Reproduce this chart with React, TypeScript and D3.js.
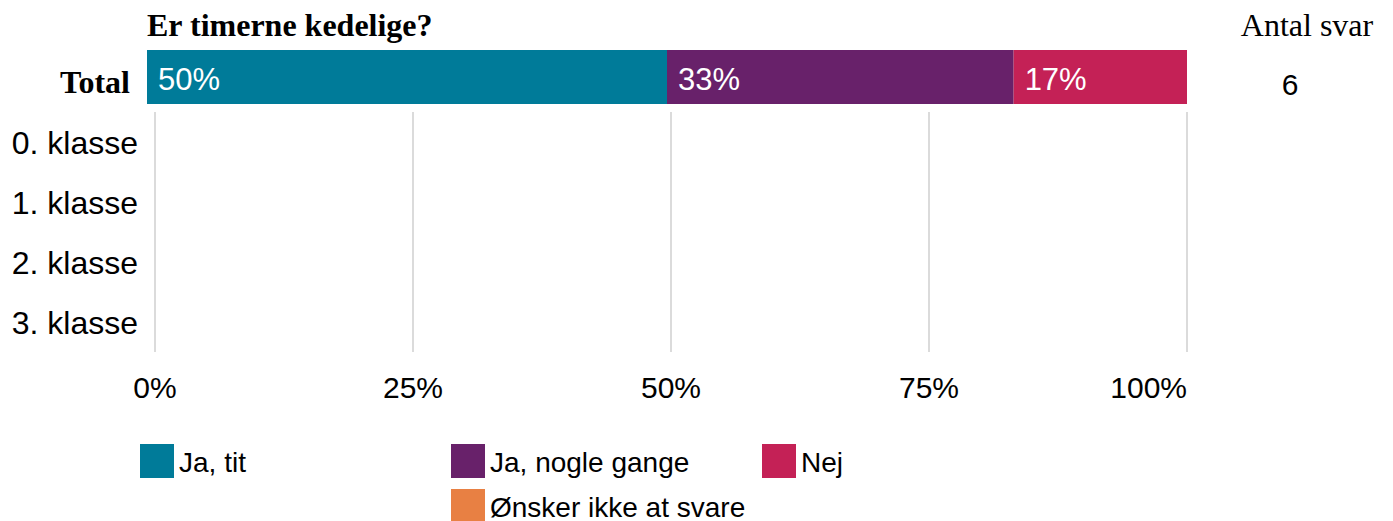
import * as d3 from "d3";
import { useEffect, useRef } from "react";

const title = "Er timerne kedelige?";
const answers = ["Ja, tit", "Ja, nogle gange", "Nej", "Ønsker ikke at svare"];
const colors = ["#007b99", "#68216a", "#c42156", "#e88043"];
const totalValues = [0.5, 0.3333, 0.1667, 0];
const totalCount = 6;
const classes = ["0. klasse", "1. klasse", "2. klasse", "3. klasse"];
const ticks = [0, 0.25, 0.5, 0.75, 1];
// legend layout: column / row of each answer
const legendCols = [0, 1, 2, 1];
const legendRows = [0, 0, 0, 1];

const W = 1393;
const H = 521;
const sans = "'Liberation Sans', Arial, sans-serif";
const serif = "'Liberation Serif', 'Times New Roman', serif";

const App = () => {
  const svgRef = useRef<SVGSVGElement>(null);

  useEffect(() => {
    const svg = d3.select(svgRef.current);
    svg.selectAll("*").remove();

    const xBar = d3.scaleLinear().domain([0, 1]).range([147, 1187]);
    const xGrid = d3.scaleLinear().domain([0, 1]).range([155, 1187]);
    const y = d3.scaleBand().domain(classes).range([112, 352]);

    // title + header
    svg
      .append("text")
      .attr("x", 147)
      .attr("y", 36)
      .attr("font-family", serif)
      .attr("font-weight", "bold")
      .attr("font-size", 32)
      .attr("fill", "#000")
      .text(title);

    svg
      .append("text")
      .attr("x", 1307)
      .attr("y", 36)
      .attr("text-anchor", "middle")
      .attr("font-family", serif)
      .attr("font-size", 32)
      .attr("fill", "#000")
      .text("Antal svar");

    // gridlines
    svg
      .append("g")
      .selectAll("line")
      .data(ticks)
      .join("line")
      .attr("x1", (d) => xGrid(d))
      .attr("x2", (d) => xGrid(d))
      .attr("y1", y.range()[0])
      .attr("y2", y.range()[1])
      .attr("stroke", "#c8c8c8")
      .attr("stroke-width", 1.3);

    // tick labels
    svg
      .append("g")
      .selectAll("text")
      .data(ticks)
      .join("text")
      .attr("x", (d) => xGrid(d))
      .attr("y", 398)
      .attr("text-anchor", (d, i) => (i === ticks.length - 1 ? "end" : "middle"))
      .attr("font-family", sans)
      .attr("font-size", 30)
      .attr("fill", "#000")
      .text((d) => d3.format(".0%")(d));

    // category labels
    svg
      .append("g")
      .selectAll("text")
      .data(classes)
      .join("text")
      .attr("x", 138)
      .attr("y", (d) => (y(d) as number) + y.bandwidth() / 2 + 12)
      .attr("text-anchor", "end")
      .attr("font-family", sans)
      .attr("font-size", 32)
      .attr("fill", "#000")
      .text((d) => d);

    // Total row
    const barTop = 50;
    const barH = 54;
    const stacked = totalValues.map((v, i) => ({
      v,
      i,
      start: d3.sum(totalValues.slice(0, i)),
    }));

    svg
      .append("text")
      .attr("x", 130)
      .attr("y", 93)
      .attr("text-anchor", "end")
      .attr("font-family", serif)
      .attr("font-weight", "bold")
      .attr("font-size", 32)
      .attr("fill", "#000")
      .text("Total");

    const segs = svg
      .append("g")
      .selectAll("g")
      .data(stacked.filter((d) => d.v > 0))
      .join("g");

    segs
      .append("rect")
      .attr("x", (d) => xBar(d.start))
      .attr("y", barTop)
      .attr("width", (d) => xBar(d.start + d.v) - xBar(d.start))
      .attr("height", barH)
      .attr("fill", (d) => colors[d.i]);

    segs
      .append("text")
      .attr("x", (d) => xBar(d.start) + 11)
      .attr("y", barTop + barH / 2 + 13)
      .attr("font-family", sans)
      .attr("font-size", 31)
      .attr("fill", "#fff")
      .text((d) => d3.format(".0%")(d.v));

    svg
      .append("text")
      .attr("x", 1290)
      .attr("y", 95)
      .attr("text-anchor", "middle")
      .attr("font-family", sans)
      .attr("font-size", 30)
      .attr("fill", "#000")
      .text(totalCount);

    // legend
    const legend = svg
      .append("g")
      .selectAll("g")
      .data(answers)
      .join("g")
      .attr(
        "transform",
        (d, i) => `translate(${140 + legendCols[i] * 311},${444 + legendRows[i] * 45})`
      );

    legend
      .append("rect")
      .attr("width", 34)
      .attr("height", 34)
      .attr("fill", (d, i) => colors[i]);

    legend
      .append("text")
      .attr("x", 39)
      .attr("y", 28)
      .attr("font-family", sans)
      .attr("font-size", 28)
      .attr("fill", "#000")
      .text((d) => d);
  }, []);

  return (
    <div style={{ position: "absolute", left: 0, top: 0 }}>
      <svg ref={svgRef} width={W} height={H} style={{ display: "block" }} />
    </div>
  );
};

export default App;
